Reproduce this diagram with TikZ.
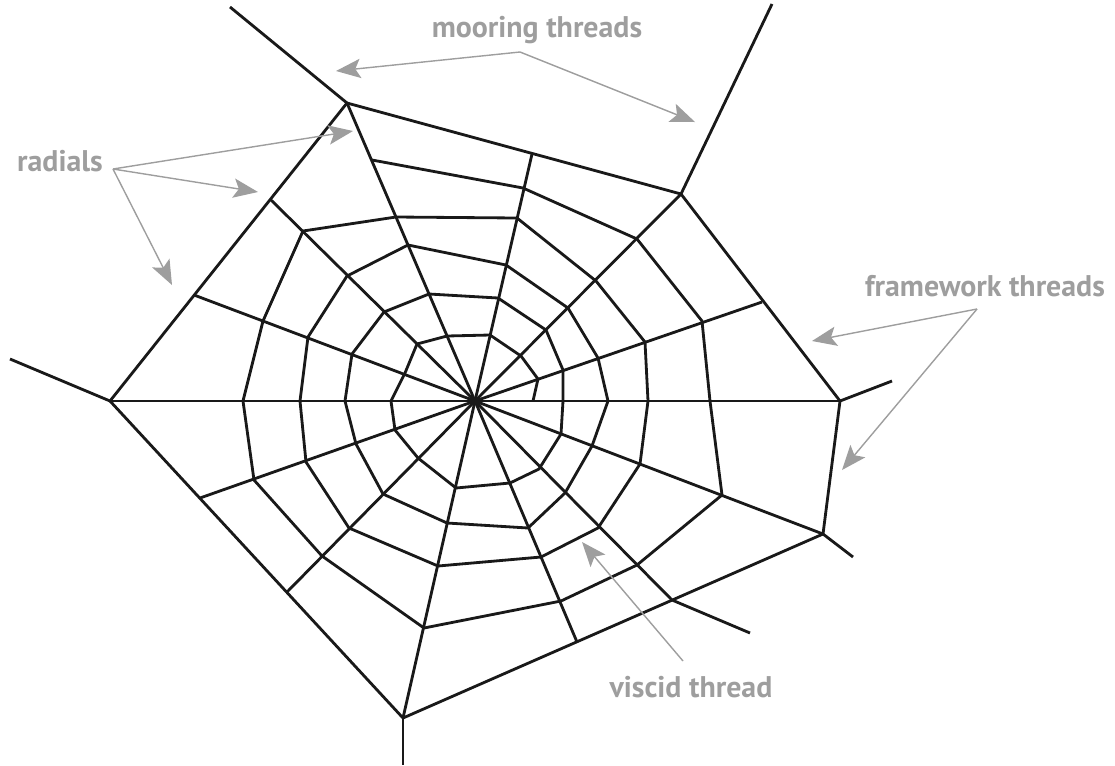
\documentclass[tikz,border=0pt]{standalone}
\usepackage{fontspec}
\setmainfont{PT Sans}
\usetikzlibrary{arrows.meta}
\definecolor{webgray}{RGB}{158,158,158}
\begin{document}
\begin{tikzpicture}[x=0.02cm,y=-0.02cm,
  thread/.style={line width=1.6pt,color=black!90},
  pointer/.style={line width=0.8pt,color=webgray,-{Stealth[length=14pt,width=11pt,inset=3pt]}},
  tag/.style={text=webgray,font=\bfseries\fontsize{17}{19}\selectfont}]
\useasboundingbox (0,0) rectangle (1115,765);
\coordinate (c) at (475,401);
\coordinate (f1) at (347,103);
\coordinate (f2) at (681,194);
\coordinate (f3) at (840,401);
\coordinate (f4) at (823,534);
\coordinate (f5) at (403,718);
\coordinate (f6) at (110,401);
\coordinate (r2) at (532,154);
\coordinate (r4) at (762,302);
\coordinate (r7) at (672,600);
\coordinate (r8) at (577,642);
\coordinate (r10) at (287,592);
\coordinate (r11) at (200,498);
\coordinate (r13) at (194,295);
\coordinate (r14) at (271,200);
\foreach \p in {f1,r2,f2,r4,f3,f4,r7,r8,f5,r10,r11,f6,r13,r14}
  \draw[thread] (c) -- (\p);
\draw[thread] (f1) -- (f2) -- (f3) -- (f4) -- (f5) -- (f6) -- cycle;
\draw[thread] (f1) -- (230,7);
\draw[thread] (f2) -- (772,4);
\draw[thread] (f3) -- (892,381);
\draw[thread] (f4) -- (853,557);
\draw[thread] (f5) -- (403,765);
\draw[thread] (f6) -- (10,359);
\draw[thread] (r7) -- (750,633);
\draw[thread] (372,160) -- (523,188) -- (637,239) -- (702,321) -- (710,401) -- (722,495)
  -- (637,565) -- (561,601) -- (424,628) -- (322,556) -- (254,480) -- (243,401)
  -- (263,321) -- (303,231)
  -- (396,217) -- (517,218) -- (596,281) -- (645,342) -- (648,401) -- (640,464)
  -- (598,528) -- (541,557) -- (438,566) -- (349,528) -- (306,462) -- (300,401)
  -- (308,337) -- (347,276)
  -- (408,245) -- (506,265) -- (568,308) -- (598,358) -- (608,401) -- (592,446)
  -- (565,493) -- (528,528) -- (447,523) -- (383,494) -- (356,444) -- (345,401)
  -- (352,354) -- (384,312)
  -- (429,294) -- (498,298) -- (546,330) -- (563,370) -- (563,401) -- (561,434)
  -- (539,469) -- (510,483) -- (456,488) -- (418,458) -- (395,430) -- (391,401)
  -- (405,373) -- (417,344)
  -- (447,336) -- (490,335) -- (521,356) -- (538,379) -- (533,401);
\node[tag] (mooring) at (537,30) {mooring threads};
\node[tag] (radials) at (60,161) {radials};
\node[tag] (framework) at (985,286) {framework threads};
\node[tag] (viscid) at (691,687) {viscid thread};
\coordinate (mfork) at (520,52);
\coordinate (rfork) at (113,169);
\coordinate (ffork) at (977,309);
\coordinate (vfork) at (683,661);
\coordinate (mtip1) at (336,71);
\coordinate (mtip2) at (695,122);
\coordinate (rtip1) at (353,131);
\coordinate (rtip2) at (258,192);
\coordinate (rtip3) at (172,285);
\coordinate (ftip1) at (812,341);
\coordinate (ftip2) at (842,470);
\coordinate (vtip) at (582,542);
\draw[pointer] (mfork) -- (mtip1);
\draw[pointer] (mfork) -- (mtip2);
\draw[pointer] (rfork) -- (rtip1);
\draw[pointer] (rfork) -- (rtip2);
\draw[pointer] (rfork) -- (rtip3);
\draw[pointer] (ffork) -- (ftip1);
\draw[pointer] (ffork) -- (ftip2);
\draw[pointer] (vfork) -- (vtip);
\end{tikzpicture}
\end{document}
